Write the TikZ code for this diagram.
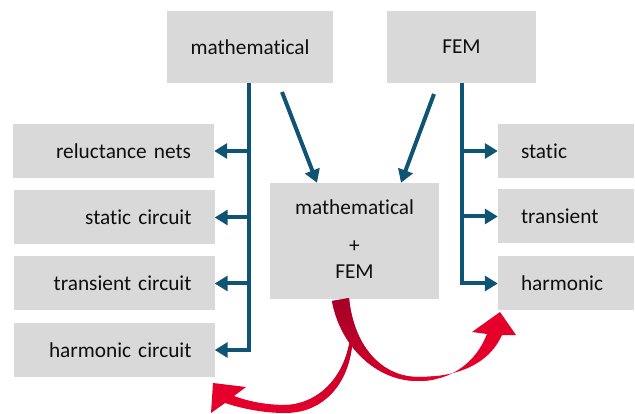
\documentclass[tikz,border=0pt]{standalone}
\usepackage{fontspec}
\setmainfont{Carlito}[Ligatures=NoCommon]
\usetikzlibrary{arrows.meta}
\definecolor{boxgray}{RGB}{217,217,217}
\definecolor{linkblue}{RGB}{16,84,116}
\definecolor{darkred}{RGB}{165,0,40}
\definecolor{brightred}{RGB}{228,0,43}
\definecolor{textcol}{RGB}{15,15,15}
\begin{document}
\begin{tikzpicture}[x=1pt,y=-1pt,
  box/.style={fill=boxgray, draw=none, inner sep=0pt, text=textcol, font=\fontsize{21.3}{30}\selectfont},
  leftbox/.style={box, minimum height=54pt, text width=155pt, inner xsep=23pt, align=right},
  rightbox/.style={box, minimum height=54pt, text width=90pt, inner xsep=23pt, align=left},
  link/.style={draw=linkblue, line width=4pt, -{Triangle[length=13pt,width=15pt]}},
]
\useasboundingbox (0,0) rectangle (635,414);

\node[box, minimum width=166pt, minimum height=72pt] (m) at (250,47) {mathematical};
\node[box, minimum width=149pt, minimum height=72pt] (f) at (461.5,47) {FEM};

\node[leftbox] (rn) at (113.5,151) {reluctance nets};
\node[leftbox] (sc) at (114,217.5) {static circuit};
\node[leftbox] (tc) at (114,283.5) {transient circuit};
\node[leftbox] (hc) at (114,350) {harmonic circuit};

\node[rightbox] (rs) at (566,151) {static};
\node[rightbox] (rt) at (566,216.5) {transient};
\node[rightbox] (rh) at (566,283.5) {harmonic};

\node[box, minimum width=169pt, minimum height=116pt, align=center] (mf) at (354.5,241)
  {mathematical\\[8pt]+\\[-4pt]FEM\rule[-4pt]{0pt}{4pt}};

% left trunk
\draw[link] ([xshift=-1pt]m.south) |- (hc.east);
\draw[link] ([xshift=-1pt]m.south |- rn.east) -- (rn.east);
\draw[link] ([xshift=-1pt]m.south |- sc.east) -- (sc.east);
\draw[link] ([xshift=-1pt]m.south |- tc.east) -- (tc.east);

% right trunk
\draw[link] (f.south) |- (rh.west);
\draw[link] (f.south |- rs.west) -- (rs.west);
\draw[link] (f.south |- rt.west) -- (rt.west);

% diagonal arrows
\coordinate (d1) at (282,92);
\coordinate (d2) at (434,94);
\draw[link] (d1) -- ([xshift=-37.5pt]mf.north);
\draw[link] (d2) -- ([xshift=46.5pt]mf.north);

% red curved arrows
\begin{scope}
\clip (332,301) .. controls (340,345) and (375,381) .. (418,381)
  .. controls (452,381) and (476,362) .. (487,334)
  -- (472,332) -- (500,312) -- (516,335) -- (502,335)
  .. controls (488,366) and (455,377) .. (418,377)
  .. controls (383,377) and (354,348) .. (349,298) -- cycle;
\fill[brightred] (200,290) rectangle (530,414);
\shade[inner color=darkred, outer color=brightred] (344,300) circle[radius=120pt];
\end{scope}
\begin{scope}
\clip (353,330) .. controls (353,385) and (322,413) .. (285,413)
  .. controls (262,413) and (240,408) .. (225,403)
  -- (211,413) -- (213,383) -- (246,387) -- (234,396)
  .. controls (250,402) and (268,405) .. (287,405)
  .. controls (320,403) and (348,375) .. (351,330) -- cycle;
\fill[brightred] (200,290) rectangle (530,414);
\shade[inner color=darkred, outer color=brightred] (344,300) circle[radius=120pt];
\end{scope}
\end{tikzpicture}
\end{document}
